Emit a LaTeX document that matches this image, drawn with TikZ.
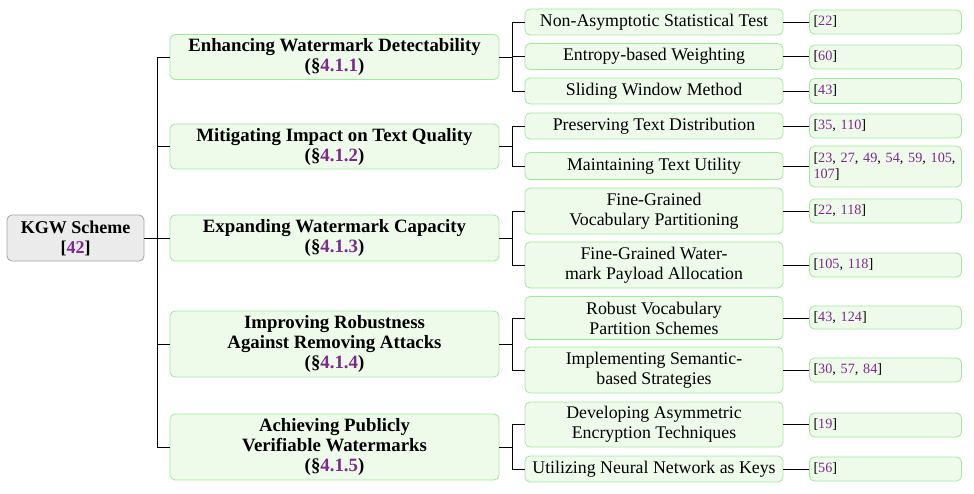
\documentclass[tikz,border=0pt]{standalone}
\usepackage{fontspec}
\setmainfont{Liberation Serif}
\definecolor{refpurple}{RGB}{125,42,140}
\definecolor{boxfill}{RGB}{238,251,235}
\definecolor{boxdraw}{RGB}{160,232,155}
\definecolor{rootfill}{RGB}{235,235,235}
\definecolor{rootdraw}{RGB}{165,165,165}
\newcommand{\rf}[1]{\textcolor{refpurple}{#1}}
\begin{document}
\begin{tikzpicture}[x=1pt,y=-1pt,
  every node/.style={inner sep=0pt},
  rootbox/.style={draw=rootdraw,fill=rootfill,rounded corners=5pt,line width=0.8pt,
    minimum width=137pt,align=center,font=\fontsize{18}{20}\selectfont\bfseries},
  topicbox/.style={draw=boxdraw,fill=boxfill,rounded corners=5pt,line width=0.8pt,
    minimum width=329pt,align=center,font=\fontsize{18.8}{20}\selectfont\bfseries},
  subbox/.style={draw=boxdraw,fill=boxfill,rounded corners=5pt,line width=0.8pt,
    minimum width=258pt,align=center,font=\fontsize{17.8}{20}\selectfont},
  refbox/.style={draw=boxdraw,fill=boxfill,rounded corners=5pt,line width=0.8pt,
    text width=144pt,inner xsep=4pt,align=left,font=\fontsize{14.2}{16.5}\selectfont},
  conn/.style={line width=0.8pt,black}
]
\useasboundingbox (0,0) rectangle (974,494);

% root
\node[rootbox,minimum height=46pt] (root) at (75.5,238) {KGW Scheme\\{[}\rf{42}{]}};

% level 1
\node[topicbox,minimum height=45pt] (t1) at (334.5,57) {Enhancing Watermark Detectability\\(§\rf{4.1.1})};
\node[topicbox,minimum height=45pt] (t2) at (334.5,146.5) {Mitigating Impact on Text Quality\\(§\rf{4.1.2})};
\node[topicbox,minimum height=46pt] (t3) at (334.5,238) {Expanding Watermark Capacity\\(§\rf{4.1.3})};
\node[topicbox,minimum height=66pt] (t4) at (334.5,344) {Improving Robustness\\Against Removing Attacks\\(§\rf{4.1.4})};
\node[topicbox,minimum height=66pt] (t5) at (334.5,447) {Achieving Publicly\\Verifiable Watermarks\\(§\rf{4.1.5})};

% level 2
\node[subbox,minimum height=26pt] (s1a) at (654,22) {Non-Asymptotic Statistical Test};
\node[subbox,minimum height=26pt] (s1b) at (654,56.5) {Entropy-based Weighting};
\node[subbox,minimum height=26pt] (s1c) at (654,91) {Sliding Window Method};
\node[subbox,minimum height=26pt] (s2a) at (654,126) {Preserving Text Distribution};
\node[subbox,minimum height=27pt] (s2b) at (654,166) {Maintaining Text Utility};
\node[subbox,minimum height=46pt] (s3a) at (654,211) {Fine-Grained\\Vocabulary Partitioning};
\node[subbox,minimum height=46pt] (s3b) at (654,265) {Fine-Grained Water-\\mark Payload Allocation};
\node[subbox,minimum height=43pt] (s4a) at (654,318) {Robust Vocabulary\\Partition Schemes};
\node[subbox,minimum height=46pt] (s4b) at (654,370) {Implementing Semantic-\\based Strategies};
\node[subbox,minimum height=45pt] (s5a) at (654,424.5) {Developing Asymmetric\\Encryption Techniques};
\node[subbox,minimum height=26pt] (s5b) at (654,469) {Utilizing Neural Network as Keys};

% level 3
\node[refbox,minimum height=24pt] (r1a) at (885.5,22) {{[}\rf{22}{]}};
\node[refbox,minimum height=24pt] (r1b) at (885.5,57) {{[}\rf{60}{]}};
\node[refbox,minimum height=25pt] (r1c) at (885.5,91) {{[}\rf{43}{]}};
\node[refbox,minimum height=24pt] (r2a) at (885.5,126) {{[}\rf{35}, \rf{110}{]}};
\node[refbox,minimum height=41pt] (r2b) at (885.5,166.5) {\mbox{{[}\rf{23}, \rf{27}, \rf{49}, \rf{54}, \rf{59}, \rf{105},}\\\rf{107}{]}};
\node[refbox,minimum height=24pt] (r3a) at (885.5,211) {{[}\rf{22}, \rf{118}{]}};
\node[refbox,minimum height=24pt] (r3b) at (885.5,265) {{[}\rf{105}, \rf{118}{]}};
\node[refbox,minimum height=23pt] (r4a) at (885.5,317.5) {{[}\rf{43}, \rf{124}{]}};
\node[refbox,minimum height=24pt] (r4b) at (885.5,370) {{[}\rf{30}, \rf{57}, \rf{84}{]}};
\node[refbox,minimum height=24pt] (r5a) at (885.5,425) {{[}\rf{19}{]}};
\node[refbox,minimum height=24pt] (r5b) at (885.5,469) {{[}\rf{56}{]}};

% trunk
\coordinate (tr) at ([xshift=13pt]root.east);
\draw[conn] (root.east) -- (tr);
\foreach \t in {t1,t2,t3,t4,t5} \draw[conn] (tr) |- (\t.west);

% branches
\foreach \t/\kids in {t1/{s1a,s1b,s1c},t2/{s2a,s2b},t3/{s3a,s3b},t4/{s4a,s4b},t5/{s5a,s5b}}{
  \coordinate (b) at ([xshift=13pt]\t.east);
  \draw[conn] (\t.east) -- (b);
  \foreach \k in \kids \draw[conn] (b) |- (\k.west);
}

% refs
\foreach \s/\r in {s1a/r1a,s1b/r1b,s1c/r1c,s2a/r2a,s2b/r2b,s3a/r3a,s3b/r3b,s4a/r4a,s4b/r4b,s5a/r5a,s5b/r5b}
  \draw[conn] (\s.east) -- (\s.east -| \r.west);
\end{tikzpicture}
\end{document}
